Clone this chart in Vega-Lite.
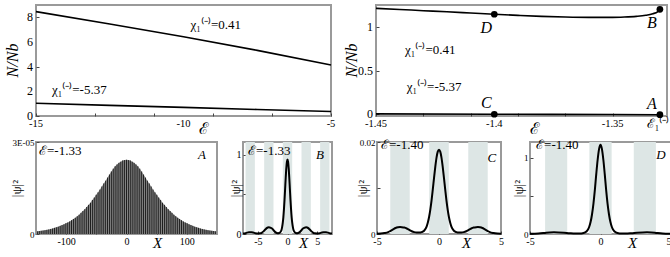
{
"$schema": "https://vega.github.io/schema/vega-lite/v6.json",
"autosize": "none",
"padding": {"left": 36, "top": 5, "right": 634, "bottom": 252},
"config": {
 "view": {"stroke": "#9a9a9a", "strokeWidth": 2},
 "axis": {"domain": false, "grid": false, "tickSize": -3, "tickColor": "#444", "tickWidth": 1, "labelPadding": 5, "labelFont": "Liberation Serif", "labelFontSize": 10, "labelColor": "#000", "labelFlush": false, "labelOverlap": false, "titleFont": "Liberation Serif", "titleFontWeight": "normal", "titleColor": "#000"},
 "text": {"font": "Liberation Serif", "color": "#000"}
},
"spacing": 0,
"vconcat": [
 {"bounds": "flush", "spacing": 45, "hconcat": [
  {"width": 295, "height": 111, "layer": [
   {"data": {"values": [
     {"chi": "0.41", "e": -15, "n": 8.46}, {"chi": "0.41", "e": -12.5, "n": 7.46}, {"chi": "0.41", "e": -10, "n": 6.43}, {"chi": "0.41", "e": -7.5, "n": 5.32}, {"chi": "0.41", "e": -5, "n": 4.14},
     {"chi": "-5.37", "e": -15, "n": 1.03}, {"chi": "-5.37", "e": -12.5, "n": 0.86}, {"chi": "-5.37", "e": -10, "n": 0.7}, {"chi": "-5.37", "e": -7.5, "n": 0.53}, {"chi": "-5.37", "e": -5, "n": 0.36}]},
    "mark": {"type": "line", "color": "#000", "strokeWidth": 1.6},
    "encoding": {
     "x": {"field": "e", "type": "quantitative", "scale": {"domain": [-15, -5], "nice": false, "zero": false},
      "axis": {"labels": false, "values": [-15,-14,-13,-12,-11,-10,-9,-8,-7,-6,-5], "title": "ℰ", "titleFontSize": 16, "titleX": 167, "titleY": 17, "titleBaseline": "alphabetic", "titleAlign": "center"}},
     "y": {"field": "n", "type": "quantitative", "scale": {"domain": [0, 9], "nice": false},
      "axis": {"labels": false, "values": [0, 1, 2, 3, 4, 5, 6, 7, 8], "title": "N/Nb", "titleFontSize": 16, "titleFontStyle": "italic", "titleAngle": 270, "titleX": -24, "titleY": 55, "titleBaseline": "middle", "titleAlign": "center"}},
     "detail": {"field": "chi"}}},
   {"data": {"values": [{"v": -15, "t": "-15"}, {"v": -10, "t": "-10"}, {"v": -5, "t": "-5"}]},
    "mark": {"type": "text", "fontSize": 10.5, "align": "center", "baseline": "top", "dy": 3},
    "encoding": {"x": {"field": "v", "type": "quantitative"}, "y": {"datum": 0, "type": "quantitative"}, "text": {"field": "t"}}},
   {"data": {"values": [{"v": 0, "t": "0"}, {"v": 2, "t": "2"}, {"v": 4, "t": "4"}, {"v": 6, "t": "6"}, {"v": 8, "t": "8"}]},
    "mark": {"type": "text", "fontSize": 12, "align": "right", "baseline": "middle", "dx": -3},
    "encoding": {"x": {"datum": -15, "type": "quantitative"}, "y": {"field": "v", "type": "quantitative"}, "text": {"field": "t"}}},
   {"data": {"values": [{}]}, "mark": {"type": "text", "fontSize": 13, "align": "left", "baseline": "middle"},
    "encoding": {"x": {"datum": -9.76, "type": "quantitative"}, "y": {"datum": 7.38, "type": "quantitative"}, "text": {"value": "χ₁⁽⁻⁾=0.41"}}},
   {"data": {"values": [{}]}, "mark": {"type": "text", "fontSize": 13, "align": "left", "baseline": "middle"},
    "encoding": {"x": {"datum": -14.46, "type": "quantitative"}, "y": {"datum": 2.1, "type": "quantitative"}, "text": {"value": "χ₁⁽⁻⁾=-5.37"}}}
  ]},
  {"width": 291, "height": 111, "layer": [
   {"data": {"values": [
     {"chi": "0.41", "e": -1.45, "n": 1.212}, {"chi": "0.41", "e": -1.44, "n": 1.199}, {"chi": "0.41", "e": -1.43, "n": 1.185}, {"chi": "0.41", "e": -1.42, "n": 1.172}, {"chi": "0.41", "e": -1.41, "n": 1.158}, {"chi": "0.41", "e": -1.40, "n": 1.144}, {"chi": "0.41", "e": -1.39, "n": 1.131}, {"chi": "0.41", "e": -1.38, "n": 1.12}, {"chi": "0.41", "e": -1.37, "n": 1.112}, {"chi": "0.41", "e": -1.36, "n": 1.108}, {"chi": "0.41", "e": -1.35, "n": 1.108}, {"chi": "0.41", "e": -1.345, "n": 1.112}, {"chi": "0.41", "e": -1.34, "n": 1.12}, {"chi": "0.41", "e": -1.336, "n": 1.132}, {"chi": "0.41", "e": -1.333, "n": 1.15}, {"chi": "0.41", "e": -1.331, "n": 1.172}, {"chi": "0.41", "e": -1.33, "n": 1.2},
     {"chi": "-5.37", "e": -1.45, "n": 0.004}, {"chi": "-5.37", "e": -1.4, "n": 0.0}, {"chi": "-5.37", "e": -1.35, "n": -0.003}, {"chi": "-5.37", "e": -1.33, "n": -0.005}]},
    "mark": {"type": "line", "color": "#000", "strokeWidth": 1.6, "interpolate": "monotone"},
    "encoding": {
     "x": {"field": "e", "type": "quantitative", "scale": {"domain": [-1.45, -1.327], "nice": false, "zero": false},
      "axis": {"labels": false, "values": [-1.45,-1.44,-1.43,-1.42,-1.41,-1.4,-1.39,-1.38,-1.37,-1.36,-1.35,-1.34,-1.33], "title": "ℰ", "titleFontSize": 16, "titleX": 158, "titleY": 17, "titleBaseline": "alphabetic", "titleAlign": "center"}},
     "y": {"field": "n", "type": "quantitative", "scale": {"domain": [-0.02, 1.25], "nice": false, "zero": false},
      "axis": {"labels": false, "values": [0, 0.25, 0.5, 0.75, 1], "title": "N/Nb", "titleFontSize": 16, "titleFontStyle": "italic", "titleAngle": 270, "titleX": -25, "titleY": 55, "titleBaseline": "middle", "titleAlign": "center"}},
     "detail": {"field": "chi"}}},
   {"data": {"values": [{"v": -1.45, "t": "-1.45"}, {"v": -1.4, "t": "-1.4"}, {"v": -1.35, "t": "-1.35"}]},
    "mark": {"type": "text", "fontSize": 10.5, "align": "center", "baseline": "top", "dy": 3},
    "encoding": {"x": {"field": "v", "type": "quantitative"}, "y": {"datum": -0.02, "type": "quantitative"}, "text": {"field": "t"}}},
   {"data": {"values": [{"v": -1.33, "t": "ℰ₁⁽⁻⁾"}]},
    "mark": {"type": "text", "fontSize": 13, "align": "center", "baseline": "top", "dy": 2, "dx": -2},
    "encoding": {"x": {"field": "v", "type": "quantitative"}, "y": {"datum": -0.02, "type": "quantitative"}, "text": {"field": "t"}}},
   {"data": {"values": [{"v": 0, "t": "0"}, {"v": 0.5, "t": "0.5"}, {"v": 1, "t": "1"}]},
    "mark": {"type": "text", "fontSize": 12, "align": "right", "baseline": "middle", "dx": -3},
    "encoding": {"x": {"datum": -1.45, "type": "quantitative"}, "y": {"field": "v", "type": "quantitative"}, "text": {"field": "t"}}},
   {"data": {"values": [{"p": "D", "e": -1.4, "n": 1.144}, {"p": "B", "e": -1.33, "n": 1.2}, {"p": "C", "e": -1.4, "n": 0.0}, {"p": "A", "e": -1.33, "n": -0.005}]},
    "layer": [
     {"mark": {"type": "point", "filled": true, "color": "#000", "opacity": 1, "size": 45},
      "encoding": {"x": {"field": "e", "type": "quantitative"}, "y": {"field": "n", "type": "quantitative"}}},
     {"transform": [{"filter": "datum.p == 'D' || datum.p == 'B'"}],
      "mark": {"type": "text", "fontSize": 16, "fontStyle": "italic", "dx": -8, "dy": 14},
      "encoding": {"x": {"field": "e", "type": "quantitative"}, "y": {"field": "n", "type": "quantitative"}, "text": {"field": "p"}}},
     {"transform": [{"filter": "datum.p == 'C' || datum.p == 'A'"}],
      "mark": {"type": "text", "fontSize": 16, "fontStyle": "italic", "dx": -8, "dy": -11},
      "encoding": {"x": {"field": "e", "type": "quantitative"}, "y": {"field": "n", "type": "quantitative"}, "text": {"field": "p"}}}
    ]},
   {"data": {"values": [{}]}, "mark": {"type": "text", "fontSize": 13, "align": "left", "baseline": "middle"},
    "encoding": {"x": {"datum": -1.4377, "type": "quantitative"}, "y": {"datum": 0.735, "type": "quantitative"}, "text": {"value": "χ₁⁽⁻⁾=0.41"}}},
   {"data": {"values": [{}]}, "mark": {"type": "text", "fontSize": 13, "align": "left", "baseline": "middle"},
    "encoding": {"x": {"datum": -1.437, "type": "quantitative"}, "y": {"datum": 0.315, "type": "quantitative"}, "text": {"value": "χ₁⁽⁻⁾=-5.37"}}}
  ]}
 ]},
 {"spacing": 18, "hconcat": [
  {"bounds": "flush", "spacing": 26, "hconcat": [
   {"width": 181, "height": 92,
    "data": {"values": [
     {"x": -147.65, "p": 0.09e-5}, {"x": -144.51, "p": 0.097e-5}, {"x": -141.37, "p": 0.105e-5}, {"x": -138.23, "p": 0.115e-5}, {"x": -135.09, "p": 0.125e-5}, {"x": -131.95, "p": 0.135e-5}, {"x": -128.81, "p": 0.15e-5}, {"x": -125.66, "p": 0.165e-5}, {"x": -122.52, "p": 0.18e-5}, {"x": -119.38, "p": 0.20e-5}, {"x": -116.24, "p": 0.22e-5}, {"x": -113.10, "p": 0.24e-5}, {"x": -109.96, "p": 0.265e-5}, {"x": -106.81, "p": 0.29e-5}, {"x": -103.67, "p": 0.315e-5}, {"x": -100.53, "p": 0.35e-5}, {"x": -97.39, "p": 0.375e-5}, {"x": -94.25, "p": 0.41e-5}, {"x": -91.11, "p": 0.45e-5}, {"x": -87.96, "p": 0.49e-5}, {"x": -84.82, "p": 0.53e-5}, {"x": -81.68, "p": 0.58e-5}, {"x": -78.54, "p": 0.63e-5}, {"x": -75.40, "p": 0.69e-5}, {"x": -72.26, "p": 0.75e-5}, {"x": -69.12, "p": 0.81e-5}, {"x": -65.97, "p": 0.88e-5}, {"x": -62.83, "p": 0.95e-5}, {"x": -59.69, "p": 1.02e-5}, {"x": -56.55, "p": 1.11e-5}, {"x": -53.41, "p": 1.19e-5}, {"x": -50.27, "p": 1.28e-5}, {"x": -47.12, "p": 1.36e-5}, {"x": -43.98, "p": 1.45e-5}, {"x": -40.84, "p": 1.55e-5}, {"x": -37.70, "p": 1.65e-5}, {"x": -34.56, "p": 1.74e-5}, {"x": -31.42, "p": 1.84e-5}, {"x": -28.27, "p": 1.94e-5}, {"x": -25.13, "p": 2.04e-5}, {"x": -21.99, "p": 2.13e-5}, {"x": -18.85, "p": 2.21e-5}, {"x": -15.71, "p": 2.27e-5}, {"x": -12.57, "p": 2.32e-5}, {"x": -9.42, "p": 2.36e-5}, {"x": -6.28, "p": 2.40e-5}, {"x": -3.14, "p": 2.41e-5},
     {"x": 0, "p": 2.42e-5},
     {"x": 3.14, "p": 2.41e-5}, {"x": 6.28, "p": 2.40e-5}, {"x": 9.42, "p": 2.36e-5}, {"x": 12.57, "p": 2.32e-5}, {"x": 15.71, "p": 2.27e-5}, {"x": 18.85, "p": 2.21e-5}, {"x": 21.99, "p": 2.13e-5}, {"x": 25.13, "p": 2.04e-5}, {"x": 28.27, "p": 1.94e-5}, {"x": 31.42, "p": 1.84e-5}, {"x": 34.56, "p": 1.74e-5}, {"x": 37.70, "p": 1.65e-5}, {"x": 40.84, "p": 1.55e-5}, {"x": 43.98, "p": 1.45e-5}, {"x": 47.12, "p": 1.36e-5}, {"x": 50.27, "p": 1.28e-5}, {"x": 53.41, "p": 1.19e-5}, {"x": 56.55, "p": 1.11e-5}, {"x": 59.69, "p": 1.02e-5}, {"x": 62.83, "p": 0.95e-5}, {"x": 65.97, "p": 0.88e-5}, {"x": 69.12, "p": 0.81e-5}, {"x": 72.26, "p": 0.75e-5}, {"x": 75.40, "p": 0.69e-5}, {"x": 78.54, "p": 0.63e-5}, {"x": 81.68, "p": 0.58e-5}, {"x": 84.82, "p": 0.53e-5}, {"x": 87.96, "p": 0.49e-5}, {"x": 91.11, "p": 0.45e-5}, {"x": 94.25, "p": 0.41e-5}, {"x": 97.39, "p": 0.375e-5}, {"x": 100.53, "p": 0.35e-5}, {"x": 103.67, "p": 0.315e-5}, {"x": 106.81, "p": 0.29e-5}, {"x": 109.96, "p": 0.265e-5}, {"x": 113.10, "p": 0.24e-5}, {"x": 116.24, "p": 0.22e-5}, {"x": 119.38, "p": 0.20e-5}, {"x": 122.52, "p": 0.18e-5}, {"x": 125.66, "p": 0.165e-5}, {"x": 128.81, "p": 0.15e-5}, {"x": 131.95, "p": 0.135e-5}, {"x": 135.09, "p": 0.125e-5}, {"x": 138.23, "p": 0.115e-5}, {"x": 141.37, "p": 0.105e-5}, {"x": 144.51, "p": 0.097e-5}, {"x": 147.65, "p": 0.09e-5}]},
    "layer": [
     {"mark": {"type": "area", "color": "#8f8f8f", "opacity": 1},
      "encoding": {
       "x": {"field": "x", "type": "quantitative", "scale": {"domain": [-150, 150], "nice": false, "zero": false},
        "axis": {"labelOverlap": false, "values": [-100, -50, 0, 50, 100], "labelExpr": "datum.value == -100 ? '-100' : (datum.value == 0 ? '0' : (datum.value == 100 ? '100' : ' '))", "labelFontSize": 10, "title": "X", "titleFontSize": 15, "titleFontStyle": "italic", "titleX": 121, "titleY": 13, "titleBaseline": "alphabetic", "titleAlign": "center"}},
       "y": {"field": "p", "type": "quantitative", "scale": {"domain": [0, 3e-5], "nice": false},
        "axis": {"labelOverlap": false, "values": [0, 1e-5, 2e-5, 3e-5], "labelExpr": "datum.value == 0 ? '0' : (datum.value > 2.5e-5 ? '3E-05' : ' ')", "labelFontSize": 9, "title": "|ψ|²", "titleFontSize": 13, "titleAngle": 270, "titleX": -19.5, "titleY": 46, "titleBaseline": "middle", "titleAlign": "center"}}}},
     {"mark": {"type": "rule", "color": "#111", "strokeWidth": 0.9},
      "encoding": {"x": {"field": "x", "type": "quantitative"}, "y": {"field": "p", "type": "quantitative"}, "y2": {"datum": 0}}},
     {"data": {"values": [{}]}, "mark": {"type": "text", "fontSize": 13, "align": "left", "baseline": "middle"},
      "encoding": {"x": {"datum": -145, "type": "quantitative"}, "y": {"datum": 2.71e-5, "type": "quantitative"}, "text": {"value": "ℰ=-1.33"}}},
     {"data": {"values": [{}]}, "mark": {"type": "text", "fontSize": 13, "fontStyle": "italic", "align": "center", "baseline": "middle"},
      "encoding": {"x": {"datum": 125, "type": "quantitative"}, "y": {"datum": 2.58e-5, "type": "quantitative"}, "text": {"value": "A"}}}
    ]},
   {"width": 89, "height": 92, "layer": [
     {"data": {"values": [{"a": -7.07, "b": -5.50}, {"a": -3.93, "b": -2.36}, {"a": -0.79, "b": 0.79}, {"a": 2.36, "b": 3.93}, {"a": 5.50, "b": 7.07}]},
      "mark": {"type": "rect", "color": "#dde6e5"},
      "encoding": {"x": {"field": "a", "type": "quantitative", "scale": {"domain": [-7.5, 7.5], "nice": false, "zero": false},
        "axis": {"labelOverlap": false, "values": [-5, 0, 5], "labelExpr": "'' + datum.value", "labelFontSize": 10, "title": "X", "titleFontSize": 15, "titleFontStyle": "italic", "titleX": 60, "titleY": 13, "titleBaseline": "alphabetic", "titleAlign": "center"}},
       "x2": {"field": "b"}}},
     {"data": {"values": [
       {"x": -7.5, "p": 0.005}, {"x": -7.1, "p": 0.01}, {"x": -6.8, "p": 0.017}, {"x": -6.5, "p": 0.022}, {"x": -6.3, "p": 0.023}, {"x": -6.1, "p": 0.022}, {"x": -5.8, "p": 0.018}, {"x": -5.4, "p": 0.01}, {"x": -5.0, "p": 0.006}, {"x": -4.6, "p": 0.008}, {"x": -4.3, "p": 0.018}, {"x": -4.1, "p": 0.03}, {"x": -3.9, "p": 0.045}, {"x": -3.7, "p": 0.06}, {"x": -3.5, "p": 0.074}, {"x": -3.3, "p": 0.082}, {"x": -3.14, "p": 0.084}, {"x": -3.0, "p": 0.083}, {"x": -2.8, "p": 0.078}, {"x": -2.6, "p": 0.068}, {"x": -2.4, "p": 0.052}, {"x": -2.2, "p": 0.035}, {"x": -2.0, "p": 0.02}, {"x": -1.8, "p": 0.012}, {"x": -1.6, "p": 0.01}, {"x": -1.4, "p": 0.012}, {"x": -1.2, "p": 0.025}, {"x": -1.0, "p": 0.055}, {"x": -0.9, "p": 0.09}, {"x": -0.8, "p": 0.14}, {"x": -0.7, "p": 0.21}, {"x": -0.6, "p": 0.31}, {"x": -0.5, "p": 0.43}, {"x": -0.4, "p": 0.57}, {"x": -0.3, "p": 0.71}, {"x": -0.2, "p": 0.83}, {"x": -0.1, "p": 0.91},
       {"x": 0, "p": 0.94},
       {"x": 0.1, "p": 0.91}, {"x": 0.2, "p": 0.83}, {"x": 0.3, "p": 0.71}, {"x": 0.4, "p": 0.57}, {"x": 0.5, "p": 0.43}, {"x": 0.6, "p": 0.31}, {"x": 0.7, "p": 0.21}, {"x": 0.8, "p": 0.14}, {"x": 0.9, "p": 0.09}, {"x": 1.0, "p": 0.055}, {"x": 1.2, "p": 0.025}, {"x": 1.4, "p": 0.012}, {"x": 1.6, "p": 0.01}, {"x": 1.8, "p": 0.012}, {"x": 2.0, "p": 0.02}, {"x": 2.2, "p": 0.035}, {"x": 2.4, "p": 0.052}, {"x": 2.6, "p": 0.068}, {"x": 2.8, "p": 0.078}, {"x": 3.0, "p": 0.083}, {"x": 3.14, "p": 0.084}, {"x": 3.3, "p": 0.082}, {"x": 3.5, "p": 0.074}, {"x": 3.7, "p": 0.06}, {"x": 3.9, "p": 0.045}, {"x": 4.1, "p": 0.03}, {"x": 4.3, "p": 0.018}, {"x": 4.6, "p": 0.008}, {"x": 5.0, "p": 0.006}, {"x": 5.4, "p": 0.01}, {"x": 5.8, "p": 0.018}, {"x": 6.1, "p": 0.022}, {"x": 6.3, "p": 0.023}, {"x": 6.5, "p": 0.022}, {"x": 6.8, "p": 0.017}, {"x": 7.1, "p": 0.01}, {"x": 7.5, "p": 0.005}]},
      "mark": {"type": "line", "color": "#000", "strokeWidth": 2, "interpolate": "monotone"},
      "encoding": {"x": {"field": "x", "type": "quantitative"},
       "y": {"field": "p", "type": "quantitative", "scale": {"domain": [0, 1.16], "nice": false},
        "axis": {"labelOverlap": false, "values": [0, 0.5, 1], "labelExpr": "datum.value == 0 ? '0' : (datum.value == 1 ? '1' : ' ')", "labelFontSize": 10, "title": "|ψ|²", "titleFontSize": 13, "titleAngle": 270, "titleX": -8, "titleY": 46, "titleBaseline": "middle", "titleAlign": "center"}}}},
     {"data": {"values": [{}]}, "mark": {"type": "text", "fontSize": 13, "align": "left", "baseline": "middle"},
      "encoding": {"x": {"datum": -6.66, "type": "quantitative"}, "y": {"datum": 1.047, "type": "quantitative"}, "text": {"value": "ℰ=-1.33"}}},
     {"data": {"values": [{}]}, "mark": {"type": "text", "fontSize": 13, "fontStyle": "italic", "align": "center", "baseline": "middle"},
      "encoding": {"x": {"datum": 5.48, "type": "quantitative"}, "y": {"datum": 0.996, "type": "quantitative"}, "text": {"value": "B"}}}
    ]}
  ]},
  {"bounds": "flush", "spacing": 29, "hconcat": [
   {"width": 124, "height": 92, "layer": [
     {"data": {"values": [{"a": -3.93, "b": -2.36}, {"a": -0.79, "b": 0.79}, {"a": 2.36, "b": 3.93}]},
      "mark": {"type": "rect", "color": "#dde6e5"},
      "encoding": {"x": {"field": "a", "type": "quantitative", "scale": {"domain": [-5, 5], "nice": false, "zero": false},
        "axis": {"labelOverlap": false, "values": [-5, 0, 5], "labelExpr": "'' + datum.value", "labelFontSize": 10, "title": "X", "titleFontSize": 15, "titleFontStyle": "italic", "titleX": 89, "titleY": 13, "titleBaseline": "alphabetic", "titleAlign": "center"}},
       "x2": {"field": "b"}}},
     {"data": {"values": [
       {"x": -5.0, "p": 0.00005}, {"x": -4.7, "p": 0.0001}, {"x": -4.4, "p": 0.0002}, {"x": -4.1, "p": 0.0004}, {"x": -3.9, "p": 0.0007}, {"x": -3.7, "p": 0.001}, {"x": -3.5, "p": 0.0013}, {"x": -3.3, "p": 0.00145}, {"x": -3.14, "p": 0.0015}, {"x": -3.0, "p": 0.00148}, {"x": -2.8, "p": 0.0014}, {"x": -2.6, "p": 0.0012}, {"x": -2.4, "p": 0.0009}, {"x": -2.2, "p": 0.0006}, {"x": -2.0, "p": 0.0004}, {"x": -1.8, "p": 0.0003}, {"x": -1.6, "p": 0.0003}, {"x": -1.4, "p": 0.0004}, {"x": -1.2, "p": 0.0007}, {"x": -1.0, "p": 0.0016}, {"x": -0.9, "p": 0.0025}, {"x": -0.8, "p": 0.0037}, {"x": -0.7, "p": 0.0053}, {"x": -0.6, "p": 0.0073}, {"x": -0.5, "p": 0.0097}, {"x": -0.4, "p": 0.0122}, {"x": -0.3, "p": 0.0146}, {"x": -0.2, "p": 0.0166}, {"x": -0.1, "p": 0.0179},
       {"x": 0, "p": 0.0183},
       {"x": 0.1, "p": 0.0179}, {"x": 0.2, "p": 0.0166}, {"x": 0.3, "p": 0.0146}, {"x": 0.4, "p": 0.0122}, {"x": 0.5, "p": 0.0097}, {"x": 0.6, "p": 0.0073}, {"x": 0.7, "p": 0.0053}, {"x": 0.8, "p": 0.0037}, {"x": 0.9, "p": 0.0025}, {"x": 1.0, "p": 0.0016}, {"x": 1.2, "p": 0.0007}, {"x": 1.4, "p": 0.0004}, {"x": 1.6, "p": 0.0003}, {"x": 1.8, "p": 0.0003}, {"x": 2.0, "p": 0.0004}, {"x": 2.2, "p": 0.0006}, {"x": 2.4, "p": 0.0009}, {"x": 2.6, "p": 0.0012}, {"x": 2.8, "p": 0.0014}, {"x": 3.0, "p": 0.00148}, {"x": 3.14, "p": 0.0015}, {"x": 3.3, "p": 0.00145}, {"x": 3.5, "p": 0.0013}, {"x": 3.7, "p": 0.001}, {"x": 3.9, "p": 0.0007}, {"x": 4.1, "p": 0.0004}, {"x": 4.4, "p": 0.0002}, {"x": 4.7, "p": 0.0001}, {"x": 5.0, "p": 0.00005}]},
      "mark": {"type": "line", "color": "#000", "strokeWidth": 2, "interpolate": "monotone"},
      "encoding": {"x": {"field": "x", "type": "quantitative"},
       "y": {"field": "p", "type": "quantitative", "scale": {"domain": [0, 0.02], "nice": false},
        "axis": {"labelOverlap": false, "values": [0, 0.01, 0.02], "labelExpr": "datum.value == 0 ? '0' : (datum.value == 0.02 ? '0.02' : ' ')", "labelFontSize": 9, "title": "|ψ|²", "titleFontSize": 13, "titleAngle": 270, "titleX": -15, "titleY": 46, "titleBaseline": "middle", "titleAlign": "center"}}}},
     {"data": {"values": [{}]}, "mark": {"type": "text", "fontSize": 13, "align": "left", "baseline": "middle"},
      "encoding": {"x": {"datum": -4.68, "type": "quantitative"}, "y": {"datum": 0.01935, "type": "quantitative"}, "text": {"value": "ℰ=-1.40"}}},
     {"data": {"values": [{}]}, "mark": {"type": "text", "fontSize": 13, "fontStyle": "italic", "align": "center", "baseline": "middle"},
      "encoding": {"x": {"datum": 4.27, "type": "quantitative"}, "y": {"datum": 0.01652, "type": "quantitative"}, "text": {"value": "C"}}}
    ]},
   {"width": 141, "height": 92, "layer": [
     {"data": {"values": [{"a": -3.93, "b": -2.36}, {"a": -0.79, "b": 0.79}, {"a": 2.36, "b": 3.93}]},
      "mark": {"type": "rect", "color": "#dde6e5"},
      "encoding": {"x": {"field": "a", "type": "quantitative", "scale": {"domain": [-5, 5], "nice": false, "zero": false},
        "axis": {"labelOverlap": false, "values": [-5, 0, 5], "labelExpr": "'' + datum.value", "labelAlign": {"condition": {"test": "datum.value == 5", "value": "right"}, "value": "center"}, "labelFontSize": 10, "title": "X", "titleFontSize": 15, "titleFontStyle": "italic", "titleX": 102, "titleY": 13, "titleBaseline": "alphabetic", "titleAlign": "center"}},
       "x2": {"field": "b"}}},
     {"data": {"values": [
       {"x": -5.0, "p": 0.003}, {"x": -4.4, "p": 0.007}, {"x": -4.0, "p": 0.013}, {"x": -3.6, "p": 0.02}, {"x": -3.3, "p": 0.022}, {"x": -3.0, "p": 0.021}, {"x": -2.6, "p": 0.017}, {"x": -2.2, "p": 0.01}, {"x": -1.8, "p": 0.005}, {"x": -1.5, "p": 0.005}, {"x": -1.2, "p": 0.012}, {"x": -1.0, "p": 0.032}, {"x": -0.9, "p": 0.055}, {"x": -0.8, "p": 0.095}, {"x": -0.7, "p": 0.16}, {"x": -0.6, "p": 0.26}, {"x": -0.5, "p": 0.40}, {"x": -0.4, "p": 0.58}, {"x": -0.3, "p": 0.79}, {"x": -0.2, "p": 0.98}, {"x": -0.1, "p": 1.12},
       {"x": 0, "p": 1.175},
       {"x": 0.1, "p": 1.12}, {"x": 0.2, "p": 0.98}, {"x": 0.3, "p": 0.79}, {"x": 0.4, "p": 0.58}, {"x": 0.5, "p": 0.40}, {"x": 0.6, "p": 0.26}, {"x": 0.7, "p": 0.16}, {"x": 0.8, "p": 0.095}, {"x": 0.9, "p": 0.055}, {"x": 1.0, "p": 0.032}, {"x": 1.2, "p": 0.012}, {"x": 1.5, "p": 0.005}, {"x": 1.8, "p": 0.005}, {"x": 2.2, "p": 0.01}, {"x": 2.6, "p": 0.017}, {"x": 3.0, "p": 0.021}, {"x": 3.3, "p": 0.022}, {"x": 3.6, "p": 0.02}, {"x": 4.0, "p": 0.013}, {"x": 4.4, "p": 0.007}, {"x": 5.0, "p": 0.003}]},
      "mark": {"type": "line", "color": "#000", "strokeWidth": 2, "interpolate": "monotone"},
      "encoding": {"x": {"field": "x", "type": "quantitative"},
       "y": {"field": "p", "type": "quantitative", "scale": {"domain": [0, 1.21], "nice": false},
        "axis": {"labelOverlap": false, "values": [0, 0.5, 1], "labelExpr": "datum.value == 0 ? '0' : (datum.value == 1 ? '1' : ' ')", "labelFontSize": 9, "title": "|ψ|²", "titleFontSize": 13, "titleAngle": 270, "titleX": -12, "titleY": 46, "titleBaseline": "middle", "titleAlign": "center"}}}},
     {"data": {"values": [{}]}, "mark": {"type": "text", "fontSize": 13, "align": "left", "baseline": "middle"},
      "encoding": {"x": {"datum": -4.57, "type": "quantitative"}, "y": {"datum": 1.17, "type": "quantitative"}, "text": {"value": "ℰ=-1.40"}}},
     {"data": {"values": [{}]}, "mark": {"type": "text", "fontSize": 13, "fontStyle": "italic", "align": "center", "baseline": "middle"},
      "encoding": {"x": {"datum": 4.29, "type": "quantitative"}, "y": {"datum": 1.039, "type": "quantitative"}, "text": {"value": "D"}}}
    ]}
  ]}
 ]}
]
}
